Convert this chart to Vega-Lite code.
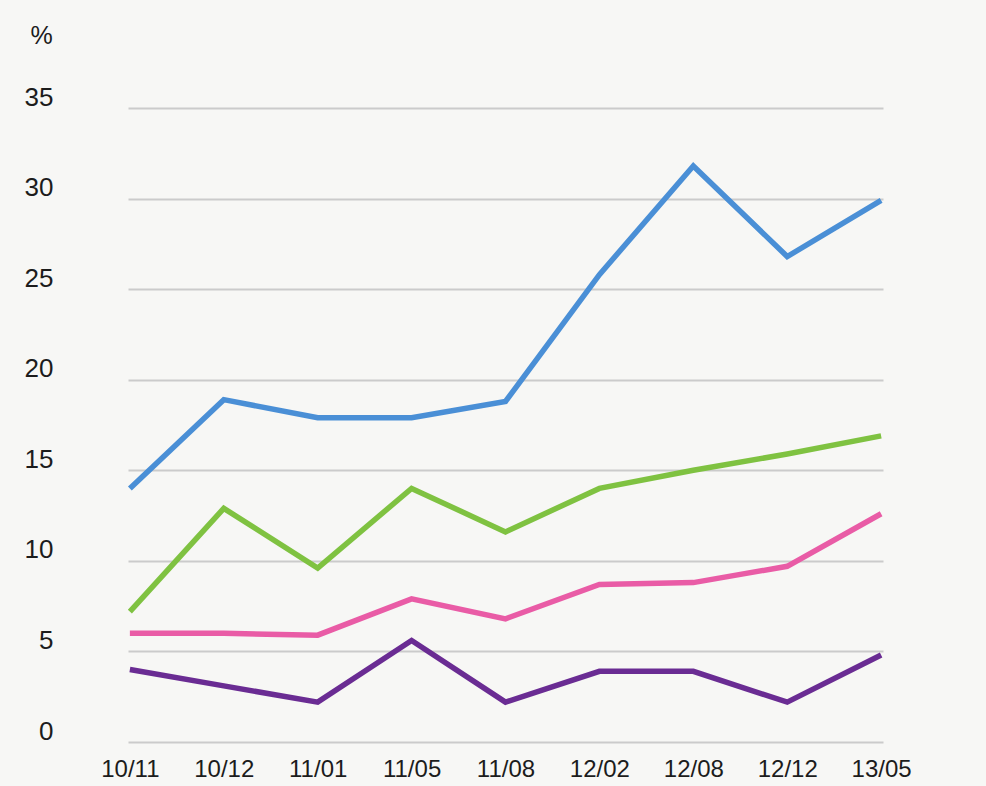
{
  "$schema": "https://vega.github.io/schema/vega-lite/v6.json",
  "autosize": "none",
  "width": 755,
  "height": 634,
  "padding": {"left": 128, "top": 108, "right": 103, "bottom": 44},
  "background": "#f7f7f5",
  "config": {
    "view": {"stroke": null},
    "font": "Liberation Sans",
    "axis": {"labelFont": "Liberation Sans", "titleFont": "Liberation Sans", "labelColor": "#1c1c1c", "titleColor": "#1c1c1c"}
  },
  "data": {
    "values": [
      {"date": "10/11", "series": "s1", "value": 14.0},
      {"date": "10/12", "series": "s1", "value": 18.9},
      {"date": "11/01", "series": "s1", "value": 17.9},
      {"date": "11/05", "series": "s1", "value": 17.9},
      {"date": "11/08", "series": "s1", "value": 18.8},
      {"date": "12/02", "series": "s1", "value": 25.8},
      {"date": "12/08", "series": "s1", "value": 31.8},
      {"date": "12/12", "series": "s1", "value": 26.8},
      {"date": "13/05", "series": "s1", "value": 29.9},
      {"date": "10/11", "series": "s2", "value": 7.2},
      {"date": "10/12", "series": "s2", "value": 12.9},
      {"date": "11/01", "series": "s2", "value": 9.6},
      {"date": "11/05", "series": "s2", "value": 14.0},
      {"date": "11/08", "series": "s2", "value": 11.6},
      {"date": "12/02", "series": "s2", "value": 14.0},
      {"date": "12/08", "series": "s2", "value": 15.0},
      {"date": "12/12", "series": "s2", "value": 15.9},
      {"date": "13/05", "series": "s2", "value": 16.9},
      {"date": "10/11", "series": "s3", "value": 6.0},
      {"date": "10/12", "series": "s3", "value": 6.0},
      {"date": "11/01", "series": "s3", "value": 5.9},
      {"date": "11/05", "series": "s3", "value": 7.9},
      {"date": "11/08", "series": "s3", "value": 6.8},
      {"date": "12/02", "series": "s3", "value": 8.7},
      {"date": "12/08", "series": "s3", "value": 8.8},
      {"date": "12/12", "series": "s3", "value": 9.7},
      {"date": "13/05", "series": "s3", "value": 12.6},
      {"date": "10/11", "series": "s4", "value": 4.0},
      {"date": "10/12", "series": "s4", "value": 3.1},
      {"date": "11/01", "series": "s4", "value": 2.2},
      {"date": "11/05", "series": "s4", "value": 5.6},
      {"date": "11/08", "series": "s4", "value": 2.2},
      {"date": "12/02", "series": "s4", "value": 3.9},
      {"date": "12/08", "series": "s4", "value": 3.9},
      {"date": "12/12", "series": "s4", "value": 2.2},
      {"date": "13/05", "series": "s4", "value": 4.8}
    ]
  },
  "mark": {"type": "line", "strokeWidth": 5.5, "strokeJoin": "miter", "strokeCap": "butt"},
  "encoding": {
    "x": {
      "field": "date", "type": "ordinal", "sort": null,
      "scale": {"type": "point", "padding": 0.02},
      "axis": {"title": null, "grid": false, "domain": false, "ticks": false, "labelAngle": 0, "labelFontSize": 24, "labelPadding": 15}
    },
    "y": {
      "field": "value", "type": "quantitative",
      "scale": {"domain": [0, 35], "nice": false},
      "axis": {
        "values": [0, 5, 10, 15, 20, 25, 30, 35],
        "title": "%", "titleAngle": 0, "titleAlign": "left", "titleBaseline": "middle",
        "titleX": -98, "titleY": -73, "titleFontSize": 25, "titleFontWeight": "normal",
        "domain": false, "ticks": false, "labelPadding": 75, "labelFontSize": 26, "labelOffset": -11,
        "grid": true, "gridColor": "#cbcbcb", "gridWidth": 2
      }
    },
    "color": {
      "field": "series", "type": "nominal", "legend": null,
      "scale": {"domain": ["s1", "s2", "s3", "s4"], "range": ["#4a8fd6", "#7fc241", "#e95ca6", "#6a2c93"]}
    }
  }
}
